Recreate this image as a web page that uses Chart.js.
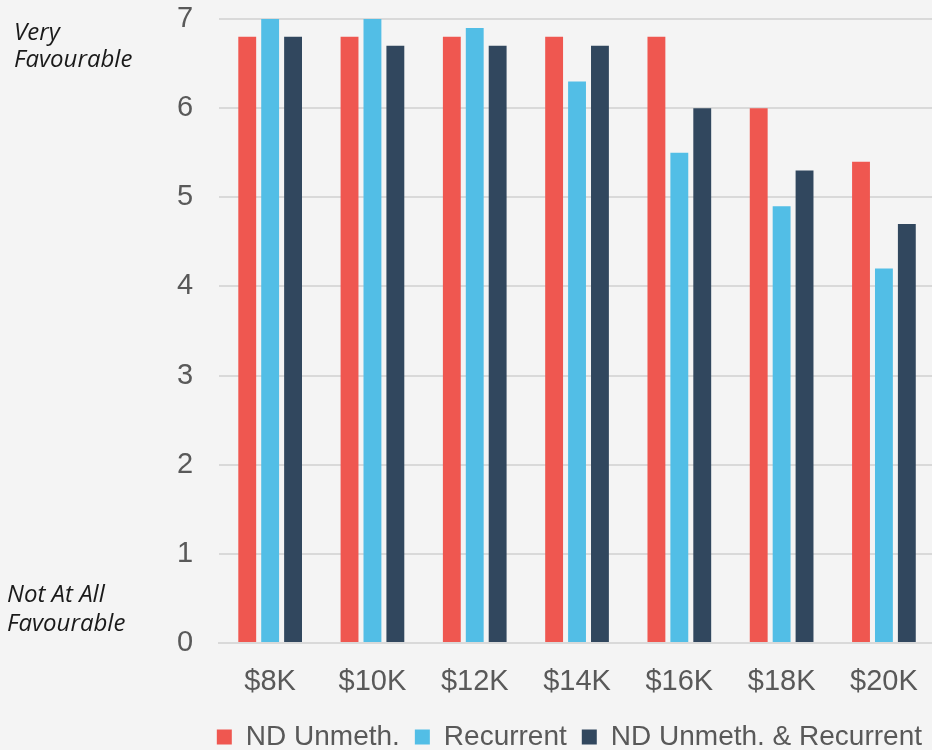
<!DOCTYPE html>
<html>
<head>
<meta charset="utf-8">
<script src="https://cdn.jsdelivr.net/npm/chart.js@4/dist/chart.umd.min.js"></script>
<style>
  html, body { margin: 0; padding: 0; background: #f4f4f4; overflow: hidden; width: 932px; height: 750px; }
  #wrap { position: absolute; left: 0; top: 0; width: 940px; height: 750px; }
</style>
</head>
<body>
<div id="wrap"><canvas id="c"></canvas></div>
<script>
const categories = ["$8K", "$10K", "$12K", "$14K", "$16K", "$18K", "$20K"];
const seriesNames = ["ND Unmeth.", "Recurrent", "ND Unmeth. & Recurrent"];
const ndUnmeth = [6.8, 6.8, 6.8, 6.8, 6.8, 6.0, 5.4];
const recurrent = [7.0, 7.0, 6.9, 6.3, 5.5, 4.9, 4.2];
const ndUnmethRecurrent = [6.8, 6.7, 6.7, 6.7, 6.0, 5.3, 4.7];
const yTicks = [0, 1, 2, 3, 4, 5, 6, 7];
const topLabel = ["Very", "Favourable"];
const bottomLabel = ["Not At All", "Favourable"];

const colors = ["#EF5750", "#52BEE6", "#31475E"];

const sideLabels = {
  id: "sideLabels",
  afterDraw(chart) {
    const ctx = chart.ctx;
    const y = chart.scales.y;
    const yTop = y.getPixelForValue(yTicks[yTicks.length - 1]);
    const yBot = y.getPixelForValue(yTicks[0]);
    ctx.save();
    ctx.font = 'italic 24px "Open Sans"';
    ctx.fillStyle = "#1a1a1a";
    ctx.textAlign = "left";
    ctx.textBaseline = "alphabetic";
    ctx.fillText(topLabel[0], 14, yTop + 21);
    ctx.fillText(topLabel[1], 14, yTop + 48);
    ctx.fillText(bottomLabel[0], 7, yBot - 41);
    ctx.fillText(bottomLabel[1], 7, yBot - 12);
    ctx.restore();
  }
};

new Chart(document.getElementById("c"), {
  type: "bar",
  data: {
    labels: categories,
    datasets: [
      { label: seriesNames[0], data: ndUnmeth, backgroundColor: colors[0] },
      { label: seriesNames[1], data: recurrent, backgroundColor: colors[1] },
      { label: seriesNames[2], data: ndUnmethRecurrent, backgroundColor: colors[2] }
    ]
  },
  options: {
    responsive: true,
    maintainAspectRatio: false,
    animation: false,
    categoryPercentage: 0.672,
    barPercentage: 0.78,
    layout: { padding: { top: 19, left: 177, right: 3, bottom: -11 } },
    plugins: {
      legend: {
        position: "bottom",
        align: "end",
        labels: {
          boxWidth: 15,
          boxHeight: 15,
          padding: 15,
          color: "#595959",
          font: { family: "'Liberation Sans', Arial, sans-serif", size: 28 }
        }
      },
      tooltip: { enabled: false }
    },
    scales: {
      x: {
        afterFit(scale) { scale.height = 65; },
        grid: { display: false, drawTicks: false },
        border: { display: true, color: "#d9d9d9", width: 2 },
        ticks: {
          color: "#595959",
          padding: 22,
          font: { family: "'Liberation Sans', Arial, sans-serif", size: 29 }
        }
      },
      y: {
        min: 0,
        max: 7,
        afterFit(scale) { scale.width = 42; },
        grid: { color: "#d9d9d9", lineWidth: 2, drawTicks: false },
        border: { display: false },
        ticks: {
          stepSize: 1,
          padding: 0,
          crossAlign: "far",
          color: "#595959",
          font: { family: "'Liberation Sans', Arial, sans-serif", size: 29 }
        }
      }
    }
  },
  plugins: [sideLabels]
});
</script>
</body>
</html>
